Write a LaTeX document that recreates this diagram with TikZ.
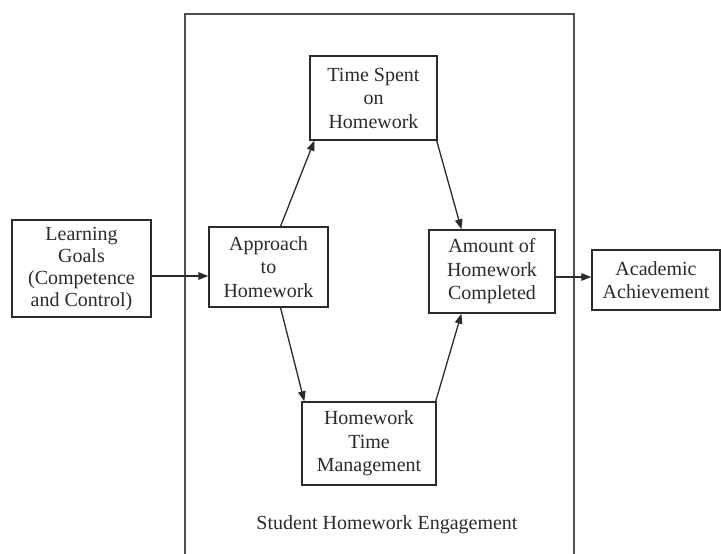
\documentclass[tikz,border=0pt]{standalone}
\usepackage{fontspec}
\setmainfont{Liberation Serif}
\usetikzlibrary{arrows.meta,calc}
\definecolor{ink}{HTML}{2B2B2B}
\definecolor{framegray}{HTML}{505050}
\begin{document}
\begin{tikzpicture}[x=1pt,y=-1pt,
  box/.style={draw=ink, line width=1.4pt, text=ink, align=center, inner sep=0pt,
              font=\fontsize{20}{23.5}\selectfont},
  arr/.style={draw=ink, line width=1.3pt, -{Triangle[length=10pt,width=7.5pt]}},
]
\useasboundingbox (0,0) rectangle (721,554);
\fill[white] (0,0) rectangle (721,554);

% engagement frame, open at the bottom
\begin{scope}
  \clip (0,0) rectangle (721,554);
  \draw[framegray, line width=1.8pt] (185,600) -- (185,14) -- (574,14) -- (574,600);
\end{scope}

% boxes
\node[box, minimum width=139pt, minimum height=97pt, font=\fontsize{20}{22}\selectfont,
      text depth=3pt] (goals) at (81.5,268.5)
  {Learning\\Goals\\(Competence\\and Control)};
\node[box, minimum width=119pt, minimum height=80pt] (approach) at (268.5,267)
  {Approach\\to\\Homework};
\node[box, minimum width=127pt, minimum height=84pt] (time) at (373.5,98)
  {Time Spent\\on\\Homework};
\node[box, minimum width=126pt, minimum height=83pt] (amount) at (492,271.5)
  {Amount of\\Homework\\Completed};
\node[box, minimum width=128pt, minimum height=60pt] (academic) at (656,280)
  {Academic\\Achievement};
\node[box, minimum width=134pt, minimum height=83pt] (htm) at (369,443.5)
  {Homework\\Time\\Management};
\node[text=ink, font=\fontsize{20}{23.5}\selectfont] (label) at (387,525)
  {Student Homework Engagement};

% connectors
\coordinate (gout) at ($(goals.east)+(0,7.5)$);
\draw[arr] (gout) -- (gout -| approach.west);
\coordinate (aout) at ($(amount.east)+(0,5.5)$);
\draw[arr] (aout) -- (aout -| academic.west);

\draw[arr] ($(approach.north west)!0.6!(approach.north east)$) -- ($(time.south west)+(5,0)$);
\draw[arr] ($(time.south east)+(-1,0)$) -- ($(amount.north west)!0.26!(amount.north east)$);
\draw[arr] ($(approach.south west)!0.6!(approach.south east)$) -- ($(htm.north west)+(3,0)$);
\draw[arr] ($(htm.north east)+(-1,0)$) -- ($(amount.south west)!0.26!(amount.south east)$);
\end{tikzpicture}
\end{document}
